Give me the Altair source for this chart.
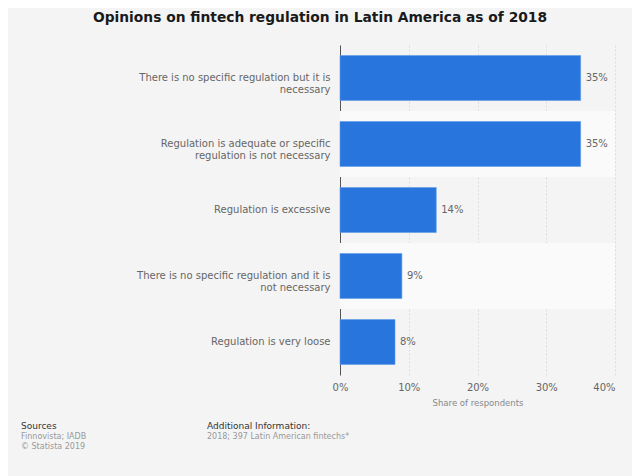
import altair as alt
import pandas as pd

categories = [
    "There is no specific regulation but it is necessary",
    "Regulation is adequate or specific regulation is not necessary",
    "Regulation is excessive",
    "There is no specific regulation and it is not necessary",
    "Regulation is very loose",
]
label_lines = [
    "There is no specific regulation but it is\nnecessary",
    "Regulation is adequate or specific\nregulation is not necessary",
    "Regulation is excessive",
    "There is no specific regulation and it is\nnot necessary",
    "Regulation is very loose",
]
values = [35, 35, 14, 9, 8]
x_ticks = [0, 10, 20, 30, 40]

title_text = "Opinions on fintech regulation in Latin America as of 2018"
FONT = "DejaVu Sans"

df = pd.DataFrame({
    "category": categories,
    "label": label_lines,
    "value": values,
    "band": [i % 2 for i in range(len(categories))],
})

ysc = alt.Scale(domain=label_lines, paddingInner=0.32, paddingOuter=0.16)
xsc = alt.Scale(domain=[0, 40], nice=False)

base = alt.Chart(df)

bands = base.mark_rect(color="#fafafa").encode(
    y=alt.Y("label:N", scale=alt.Scale(domain=label_lines, paddingInner=0, paddingOuter=0), axis=None),
    x=alt.value(0),
    x2=alt.value(275),
    opacity=alt.condition("datum.band == 1", alt.value(1), alt.value(0)),
)

bars = base.mark_bar(color="#2876dd", stroke="#5b9bea", strokeWidth=0.6).encode(
    y=alt.Y(
        "label:N",
        sort=label_lines,
        scale=ysc,
        title=None,
        axis=alt.Axis(
            labelExpr="split(datum.value, '\\n')",
            labelFont=FONT,
            labelFontSize=10,
            labelColor="#666666",
            labelPadding=10,
            labelLimit=330,
            labelLineHeight=12,
            ticks=False,
            domain=True,
            domainColor="#555555",
            domainWidth=1,
            grid=False,
        ),
    ),
    x=alt.X(
        "value:Q",
        scale=xsc,
        title="Share of respondents",
        axis=alt.Axis(
            values=x_ticks,
            labelExpr="datum.value + '%'",
            labelFont=FONT,
            labelFontSize=10,
            labelColor="#666666",
            labelPadding=7,
            labelFlush=False,
            labelAlign={"condition": {"test": "datum.value == 40", "value": "right"}, "value": "center"},
            titleFont=FONT,
            titleFontSize=8.5,
            titleFontWeight="normal",
            titleColor="#888888",
            titlePadding=6,
            ticks=False,
            domain=False,
            grid=True,
            gridColor="#dddddd",
            gridDash=[2, 2],
            gridWidth=1,
        ),
    ),
)

labels = base.transform_calculate(txt="datum.value + '%'").mark_text(
    align="left", baseline="middle", dx=5, font=FONT, fontSize=10, color="#666666"
).encode(
    y=alt.Y("label:N", sort=label_lines, scale=ysc, axis=None),
    x=alt.X("value:Q", scale=xsc, axis=None),
    text="txt:N",
)

title = alt.Chart(pd.DataFrame({"t": [title_text]})).mark_text(
    font=FONT, fontSize=13.8, fontWeight="bold", color="#1a1a1a", align="center", baseline="middle"
).encode(text="t:N", x=alt.value(-20), y=alt.value(-27.5))

foot_heads = pd.DataFrame({
    "t": ["Sources", "Additional Information:"],
    "col": [0, 1],
    "row": [0, 0],
})
foot_body = pd.DataFrame({
    "t": ["Finnovista; IADB", "\u00a9 Statista 2019", "2018; 397 Latin American fintechs*"],
    "col": [0, 0, 1],
    "row": [1, 2, 1],
})

fx = alt.Scale(domain=[0, 1], range=[-319, -133])
fy = alt.Scale(domain=[0, 2], range=[381, 402])

head = alt.Chart(foot_heads).mark_text(
    font=FONT, fontSize=9, align="left", baseline="middle", color="#333333"
).encode(
    text="t:N",
    x=alt.X("col:Q", scale=fx, axis=None),
    y=alt.Y("row:Q", scale=fy, axis=None),
)
body = alt.Chart(foot_body).mark_text(
    font=FONT, fontSize=8, align="left", baseline="middle", color="#999999"
).encode(
    text="t:N",
    x=alt.X("col:Q", scale=fx, axis=None),
    y=alt.Y("row:Q", scale=fy, axis=None),
)

chart = alt.layer(bands, bars, labels, title, head, body).resolve_scale(
    y="independent", x="independent"
).properties(
    width=275,
    height=330,
    background="#f4f4f4",
    padding={"left": 332, "top": 37, "right": 17, "bottom": 101},
    autosize=alt.AutoSizeParams(type="none"),
).configure_view(stroke=None)

chart.save("out.html", embed_options={"renderer": "svg", "actions": False})
